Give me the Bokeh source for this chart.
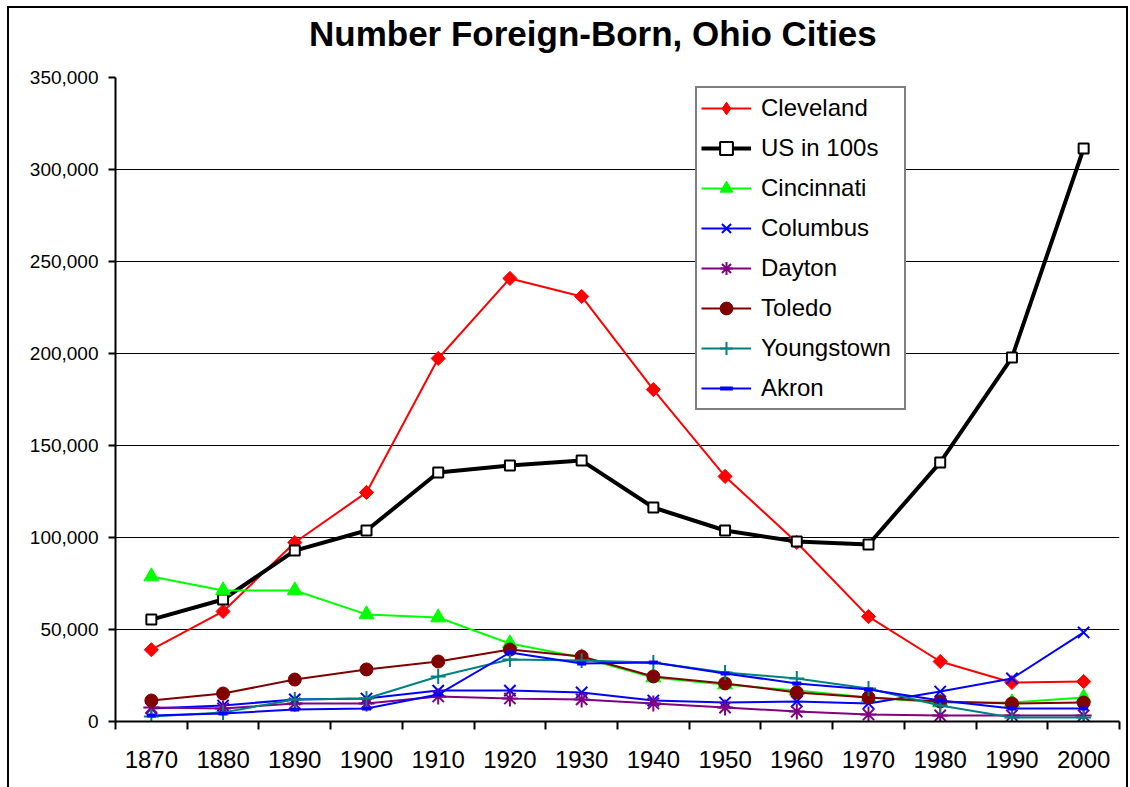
from bokeh.plotting import figure
from bokeh.models import FixedTicker, NumeralTickFormatter, Legend, LegendItem, Div
from bokeh.layouts import column
from bokeh.embed import file_html
from bokeh.resources import INLINE
import math

years = [1870, 1880, 1890, 1900, 1910, 1920, 1930, 1940, 1950, 1960, 1970, 1980, 1990, 2000]

cleveland = [39000, 59800, 97300, 124500, 197300, 240800, 231000, 180400, 133200, 97300, 57000, 32600, 21200, 21700]
us_100s = [55400, 66300, 92900, 103800, 135300, 139100, 141800, 116300, 103800, 97800, 96200, 140800, 197800, 311400]
cincinnati = [78800, 71200, 71200, 58200, 56500, 42400, 34800, 23900, 20100, 16800, 13000, 10300, 10300, 13000]
columbus = [7100, 8700, 12000, 12500, 16800, 16800, 15800, 11400, 10300, 10900, 9800, 16300, 23400, 48400]
dayton = [7600, 7100, 9800, 9800, 13600, 12500, 12000, 9800, 7600, 5400, 3800, 3300, 3300, 3300]
toledo = [11400, 15200, 22800, 28300, 32600, 39100, 35300, 24500, 20700, 15800, 13000, 10900, 9800, 10300]
youngstown = [2700, 4900, 12000, 12500, 24500, 33700, 33200, 32100, 26600, 23400, 17900, 8700, 2200, 2200]
akron = [3300, 4300, 6500, 7100, 14700, 37500, 31500, 32100, 26100, 20700, 17400, 11400, 7100, 7100]

y_ticks = [0, 50000, 100000, 150000, 200000, 250000, 300000, 350000]
x_bounds = [1865, 1875, 1885, 1895, 1905, 1915, 1925, 1935, 1945, 1955, 1965, 1975, 1985, 1995, 2005]

TITLE = "Number Foreign-Born, Ohio Cities"
FONT = "Liberation Sans"

title_div = Div(
    text=('<div style="position:absolute; left:300px; top:8px; white-space:nowrap; '
          'font-family:\'Liberation Sans\'; font-size:35px; font-weight:bold; '
          'line-height:35px; color:black;">' + TITLE + '</div>'),
    width=1117, height=60, margin=0, styles={"background-color": "white"})

p = figure(width=1117, height=719, output_backend="svg", toolbar_location=None,
           x_range=(1865, 2005), y_range=(0, 350000),
           min_border_left=106, min_border_right=7, min_border_top=9, min_border_bottom=66)
p.outline_line_color = None
p.background_fill_color = "white"
p.border_fill_color = "white"

# axes
p.xaxis.ticker = FixedTicker(ticks=years, minor_ticks=x_bounds)
p.xaxis.major_tick_out = 0
p.xaxis.major_tick_in = 0
p.xaxis.minor_tick_out = 8
p.xaxis.minor_tick_in = 0
p.xaxis.minor_tick_line_width = 2
p.xaxis.minor_tick_line_color = "black"
p.xaxis.axis_line_width = 2
p.xaxis.axis_line_color = "black"
p.xaxis.major_label_text_font = FONT
p.xaxis.major_label_text_font_size = "24px"
p.xaxis.major_label_text_color = "black"
p.xaxis.major_label_standoff = 21

p.yaxis.ticker = FixedTicker(ticks=y_ticks)
p.yaxis.formatter = NumeralTickFormatter(format="0,0")
p.yaxis.major_tick_out = 7
p.yaxis.major_tick_in = 0
p.yaxis.minor_tick_out = 0
p.yaxis.minor_tick_in = 0
p.yaxis.major_tick_line_width = 2
p.yaxis.major_tick_line_color = "black"
p.yaxis.axis_line_width = 2
p.yaxis.axis_line_color = "black"
p.yaxis.major_label_text_font = FONT
p.yaxis.major_label_text_font_size = "19px"
p.yaxis.major_label_text_color = "black"
p.yaxis.major_label_standoff = 10

p.xgrid.grid_line_color = None
p.ygrid.ticker = FixedTicker(ticks=y_ticks)
p.ygrid.grid_line_color = "black"
p.ygrid.grid_line_width = 1

series = [
    ("Cleveland", cleveland, "#FF0000", 2, "square", 10, "#FF0000", math.pi / 4),
    ("US in 100s", us_100s, "#000000", 4, "square", 10, "white", 0),
    ("Cincinnati", cincinnati, "#00FF00", 2, "triangle", 15, "#00FF00", 0),
    ("Columbus", columbus, "#0000FF", 2, "x", 16, "#0000FF", 0),
    ("Dayton", dayton, "#800080", 2, "asterisk", 16, "#800080", 0),
    ("Toledo", toledo, "#800000", 2, "circle", 13, "#800000", 0),
    ("Youngstown", youngstown, "#008080", 2, "cross", 15, "#008080", 0),
    ("Akron", akron, "#0000FF", 2, "dash", 9, "#0000FF", 0),
]

items = []
for name, vals, color, lw, marker, size, fill, ang in series:
    r1 = p.line(years, vals, line_color=color, line_width=lw)
    mlw = 2 if marker in ("x", "asterisk", "cross") or fill == "white" else 1
    if marker == "dash":
        mlw = 4
    r2 = p.scatter(years, vals, marker=marker, size=size, angle=ang, line_color=color,
                   fill_color=fill, line_width=mlw)
    renderers = [r1, r2]
    if ang:
        # hidden proxy so the legend shows a diamond like the plotted (rotated) markers
        proxy = p.scatter(years, vals, marker="diamond", size=size, line_color=color,
                          fill_color=fill, visible=False)
        renderers = [r1, proxy]
    items.append(LegendItem(label=name, renderers=renderers))

legend = Legend(items=items, location=(580, 311))
legend.label_text_font = FONT
legend.label_text_font_size = "24px"
legend.label_text_color = "black"
legend.label_height = 32
legend.glyph_height = 32
legend.glyph_width = 50
legend.label_width = 139
legend.label_standoff = 10
legend.spacing = 8
legend.padding = 4
legend.margin = 0
legend.border_line_color = "black"
legend.border_line_width = 2
legend.background_fill_color = "white"
legend.background_fill_alpha = 1
p.add_layout(legend)

layout = column(title_div, p, spacing=0)
layout.styles = {"border-left": "2px solid black", "border-top": "2px solid black",
                 "border-right": "2px solid black", "margin-left": "7px", "margin-top": "6px",
                 "background-color": "white"}

open("out.html", "w").write(file_html(layout, INLINE))
